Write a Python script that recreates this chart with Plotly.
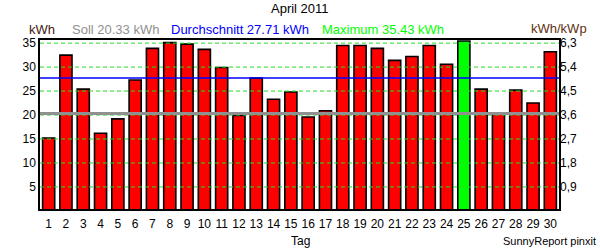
import plotly.graph_objects as go

days = list(range(1, 31))
energy_kwh = [15.2, 32.5, 25.4, 16.2, 19.2, 27.3, 33.9, 35.1, 34.8, 33.7,
              29.9, 19.9, 27.7, 23.3, 24.8, 19.6, 20.9, 34.5, 34.5, 33.9,
              31.4, 32.2, 34.5, 30.6, 35.43, 25.4, 20.4, 25.2, 22.5, 33.2]
soll_kwh = 20.33
avg_kwh = 27.71
max_kwh = 35.43
kwp_factor = 0.18  # kWh/kWp per kWh
left_ticks = [5, 10, 15, 20, 25, 30, 35]
right_ticks = [0.9, 1.8, 2.7, 3.6, 4.5, 5.4, 6.3]

FONT = "Liberation Sans, Arial, sans-serif"
y_range = [0.4, 35.65]

W, H, L, R, T, B = 600, 250, 40, 41, 40, 41
pw, ph = W - L - R, H - T - B

colors = ["#00ff00" if v == max(energy_kwh) else "#ff0000" for v in energy_kwh]

fig = go.Figure()
fig.add_trace(go.Bar(
    x=days, y=energy_kwh, width=0.7,
    marker=dict(color=colors, line=dict(color="black", width=1.6)),
    showlegend=False, hoverinfo="x+y"))
fig.add_trace(go.Scatter(
    x=[days[0]], y=[energy_kwh[0] * kwp_factor], yaxis="y2",
    mode="markers", marker=dict(opacity=0), showlegend=False, hoverinfo="skip"))

# dashed green grid drawn above the bars
for t in left_ticks:
    fig.add_shape(type="line", xref="paper", x0=0, x1=1, yref="y", y0=t, y1=t,
                  line=dict(color="#22dd22", width=1, dash="4px,3px"), layer="above")
fig.add_shape(type="line", xref="paper", x0=0, x1=1, yref="y", y0=soll_kwh, y1=soll_kwh,
              line=dict(color="#909090", width=3), layer="above")
fig.add_shape(type="line", xref="paper", x0=0, x1=1, yref="y", y0=avg_kwh, y1=avg_kwh,
              line=dict(color="#0000ff", width=1.5), layer="above")

def ann(text, px_x, px_y, size=13, color="black", xanchor="center"):
    return dict(text=text, xref="paper", yref="paper",
                x=(px_x - L) / pw, y=(H - B - px_y) / ph,
                xanchor=xanchor, yanchor="middle", showarrow=False,
                font=dict(size=size, color=color, family=FONT))

fig.update_layout(
    width=W, height=H,
    margin=dict(l=L, r=R, t=T, b=B),
    paper_bgcolor="white", plot_bgcolor="white",
    separators=",.",
    font=dict(family=FONT, size=12, color="black"),
    xaxis=dict(range=[0.5, 30.5], tickvals=days, ticktext=[str(d) for d in days],
               showgrid=False, zeroline=False, showline=True, linecolor="black",
               linewidth=1.5, mirror=True, ticks="", ticklen=0,
               ticklabelstandoff=3,
               tickfont=dict(size=12), fixedrange=True),
    yaxis=dict(range=y_range, tickvals=left_ticks, showgrid=False,
               zeroline=False, showline=True, linecolor="black", linewidth=1.5,
               mirror=True, ticks="", tickfont=dict(size=12)),
    yaxis2=dict(range=[y_range[0] * kwp_factor, y_range[1] * kwp_factor],
                overlaying="y", side="right", tickvals=right_ticks,
                tickformat=".1f", showgrid=False, zeroline=False,
                showline=False, ticks="", tickfont=dict(size=12)),
    annotations=[
        ann("April 2011", 300, 8.5),
        ann("kWh", 27, 30, color="#402010", xanchor="left"),
        ann(f"Soll {soll_kwh:.2f} kWh", 70, 30, color="#909090", xanchor="left"),
        ann(f"Durchschnitt {avg_kwh:.2f} kWh", 169, 30, color="#0000ff", xanchor="left"),
        ann(f"Maximum {max_kwh:.2f} kWh", 320, 30, color="#00ff00", xanchor="left"),
        ann("kWh/kWp", 589, 28.5, color="#603010", xanchor="right"),
        ann("Tag", 300, 241, size=12),
        ann("SunnyReport pinxit", 598, 241, size=11, xanchor="right"),
    ],
)

fig.write_html("out.html")
